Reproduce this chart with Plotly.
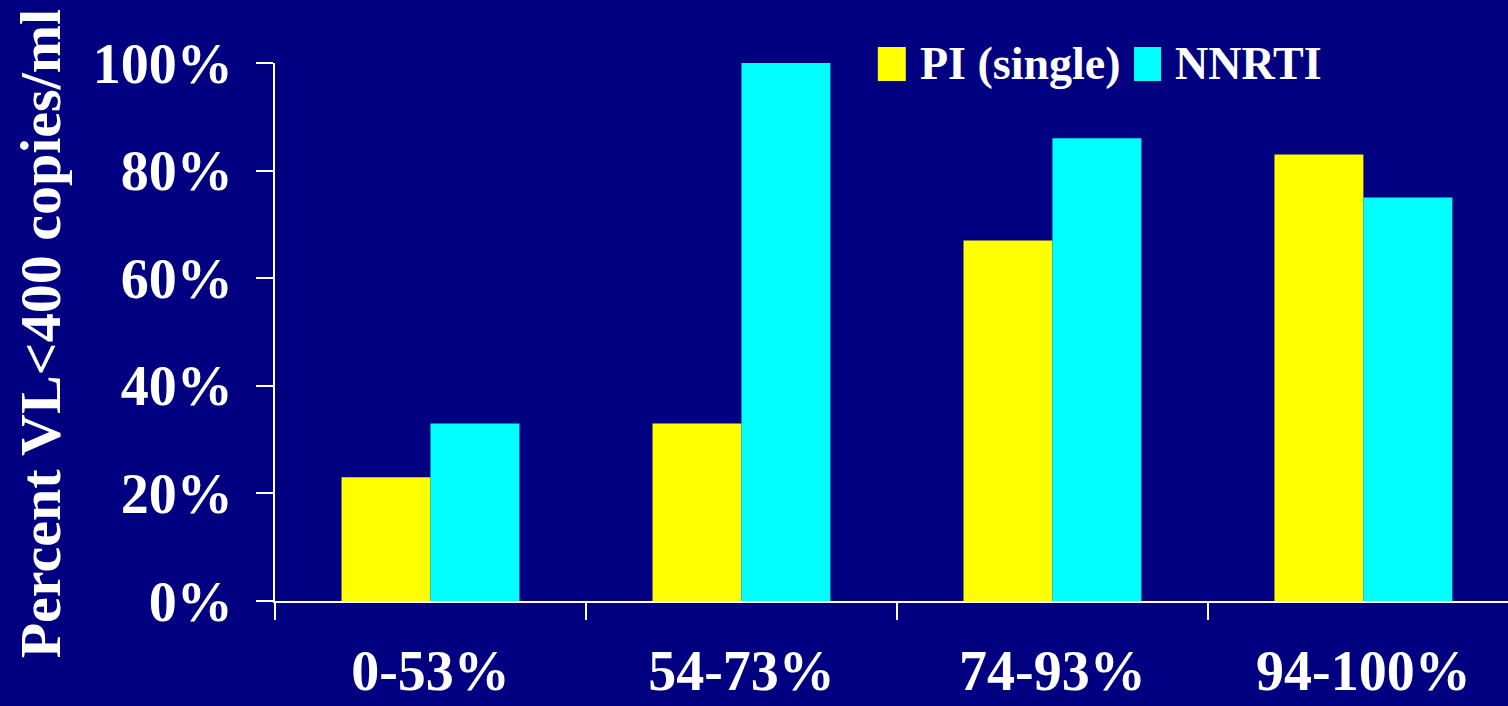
import plotly.graph_objects as go

categories = ["0-53%", "54-73%", "74-93%", "94-100%"]
pi_single = [23, 33, 67, 83]
nnrti = [33, 100, 86, 75]
y_ticks = [0, 20, 40, 60, 80, 100]
y_tick_labels = ["0%", "20%", "40%", "60%", "80%", "100%"]
series_names = ["PI (single)", "NNRTI"]
series_colors = ["#FFFF00", "#00FFFF"]

FONT = "Liberation Serif"
BG = "#000080"

fig = go.Figure()
fig.add_trace(go.Bar(x=categories, y=pi_single, name=series_names[0],
                     marker=dict(color=series_colors[0], line=dict(width=0))))
fig.add_trace(go.Bar(x=categories, y=nnrti, name=series_names[1],
                     marker=dict(color=series_colors[1], line=dict(width=0))))

fig.update_layout(
    width=1508, height=706,
    margin=dict(l=275, r=0, t=63, b=105, autoexpand=False),
    paper_bgcolor=BG, plot_bgcolor=BG,
    barmode="group", bargap=0.428, bargroupgap=0,
    showlegend=False,
    font=dict(family=FONT, color="white"),
)
fig.update_xaxes(
    type="category", range=[-0.5, 3.465], automargin=False,
    showline=True, linecolor="white", linewidth=2,
    ticks="outside", tickson="boundaries", ticklen=17, tickwidth=2, tickcolor="white",
    tickfont=dict(family=FONT, size=56, color="white", weight="bold"),
    ticklabelstandoff=20,
    showgrid=False, zeroline=False,
)
fig.update_yaxes(
    range=[0, 100], tickvals=y_ticks, ticktext=y_tick_labels, automargin=False,
    showline=True, linecolor="white", linewidth=2,
    ticks="outside", ticklen=17, tickwidth=2, tickcolor="white",
    tickfont=dict(family=FONT, size=56, color="white", weight="bold"),
    ticklabelstandoff=12,
    showgrid=False, zeroline=False,
)

# Y-axis title
fig.add_annotation(text="Percent VL<400 copies/ml", xref="paper", yref="paper",
                   x=-0.19, y=0.497, xanchor="center", yanchor="middle",
                   textangle=-90, showarrow=False,
                   font=dict(family=FONT, size=58, color="white", weight="bold"))

# Manual legend (large square swatches)
legend_items = [(0.4889, 0.5116), (0.6967, 0.7186)]
for (x0, x1), name, color in zip(legend_items, series_names, series_colors):
    fig.add_shape(type="rect", xref="paper", yref="paper",
                  x0=x0, x1=x1, y0=(601 - 81) / 538, y1=(601 - 47) / 538,
                  fillcolor=color, line=dict(width=0))
    fig.add_annotation(text=name, xref="paper", yref="paper",
                       x=x1 + 0.0097, y=(601 - 64) / 538, xanchor="left", yanchor="middle",
                       showarrow=False,
                       font=dict(family=FONT, size=46, color="white", weight="bold"))

fig.write_html(
    "out.html",
    config={"displayModeBar": False},
    post_script="document.body.style.margin='0';document.body.style.background='#000080';",
)
